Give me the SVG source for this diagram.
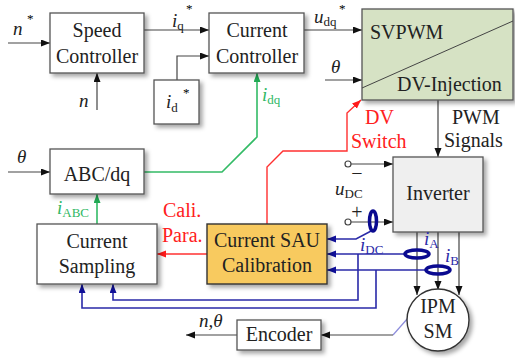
<svg xmlns="http://www.w3.org/2000/svg" width="515" height="358" viewBox="0 0 515 358">
<style>
.box{fill:#ffffff;stroke:#555;stroke-width:1.3}
.t{font-family:"Liberation Serif","Times New Roman","DejaVu Serif",serif;font-size:20px;fill:#222}
.m{font-family:"Liberation Serif","Times New Roman","DejaVu Serif",serif;font-style:italic;font-size:19px;fill:#222}
.s{font-family:"Liberation Serif","Times New Roman","DejaVu Serif",serif;font-size:13px;font-style:normal}
.cr{fill:#ff2020}
.cg{fill:#2fb865}
.cb{fill:#2a2aa8}
.k{stroke:#444;stroke-width:1.2;fill:none}
.g{stroke:#33bb66;stroke-width:1.6;fill:none}
.r{stroke:#ff3030;stroke-width:1.4;fill:none}
.b{stroke:#2a2aa8;stroke-width:1.6;fill:none}
.ring{stroke:#0a0a90;stroke-width:3.5;fill:none}
</style>
<defs>
<filter id="sh" x="-10%" y="-10%" width="130%" height="140%">
<feDropShadow dx="3" dy="3" stdDeviation="2" flood-color="#000" flood-opacity="0.35"/>
</filter>
<marker id="ak" markerUnits="userSpaceOnUse" markerWidth="10" markerHeight="8" refX="9" refY="3.5" orient="auto"><path d="M0,0 L9,3.5 L0,7 z" fill="#111"/></marker>
<marker id="ag" markerUnits="userSpaceOnUse" markerWidth="10" markerHeight="8" refX="9" refY="3.5" orient="auto"><path d="M0,0 L9,3.5 L0,7 z" fill="#22aa55"/></marker>
<marker id="ar" markerUnits="userSpaceOnUse" markerWidth="10" markerHeight="8" refX="9" refY="3.5" orient="auto"><path d="M0,0 L9,3.5 L0,7 z" fill="#ff1a1a"/></marker>
<marker id="ab" markerUnits="userSpaceOnUse" markerWidth="10" markerHeight="8" refX="9" refY="3.5" orient="auto"><path d="M0,0 L9,3.5 L0,7 z" fill="#10109a"/></marker>
</defs>

<g id="connectors">
<path class="k" d="M8,43 H50" marker-end="url(#ak)"/>
<path class="k" d="M97,110 V73" marker-end="url(#ak)"/>
<path class="k" d="M144,30 H209" marker-end="url(#ak)"/>
<path class="k" d="M177,80 V56 H209" marker-end="url(#ak)"/>
<path class="k" d="M304,30 H362" marker-end="url(#ak)"/>
<path class="k" d="M325,80 H362" marker-end="url(#ak)"/>
<path class="k" d="M8,172 H50" marker-end="url(#ak)"/>
<path class="g" d="M144,172 H222 L257,137 V73" marker-end="url(#ag)"/>
<path class="g" d="M97,224 V194" marker-end="url(#ag)"/>
<path class="r" d="M207,254 H157" marker-end="url(#ar)"/>
<path class="r" d="M267,224 V167 L283,151 H347 V113 L361,100" marker-end="url(#ar)"/>
<path class="k" d="M438,100 V157" marker-end="url(#ak)"/>
<circle cx="348" cy="164" r="3" fill="#fff" stroke="#444" stroke-width="1.2"/>
<circle cx="348" cy="222" r="3" fill="#fff" stroke="#444" stroke-width="1.2"/>
<path class="k" d="M351,164 H393" marker-end="url(#ak)"/>
<path class="k" d="M351,222 H393" marker-end="url(#ak)"/>
<path class="k" d="M417,232 V295" marker-end="url(#ak)"/>
<path class="k" d="M438,232 V290" marker-end="url(#ak)"/>
<path class="k" d="M459,232 V295" marker-end="url(#ak)"/>
<path class="b" d="M373,230 L356,239 H327" marker-end="url(#ab)"/>
<path class="b" d="M405,254 H327" marker-end="url(#ab)"/>
<path class="b" d="M426,270 H327" marker-end="url(#ab)"/>
<path class="b" d="M358,254 V300 H113 V284" marker-end="url(#ab)"/>
<path class="b" d="M376,270 V308 H82 V284" marker-end="url(#ab)"/>
<ellipse class="ring" cx="373" cy="221" rx="3.5" ry="10"/>
<ellipse class="ring" cx="417" cy="254" rx="12" ry="4"/>
<ellipse class="ring" cx="438" cy="270" rx="12" ry="4"/>
<path d="M408,318 L393,335" stroke="#8c8cdc" stroke-width="1.2" fill="none"/>
<path class="k" d="M393,335 H321" marker-end="url(#ak)"/>
<path class="k" d="M237,335 H186" marker-end="url(#ak)"/>
</g>

<g id="speed-controller">
<rect class="box" x="50" y="13" width="94" height="60" filter="url(#sh)"/>
<text class="t" x="97" y="37" text-anchor="middle">Speed</text>
<text class="t" x="97" y="63" text-anchor="middle">Controller</text>
</g>
<g id="current-controller">
<rect class="box" x="209" y="13" width="95" height="60" filter="url(#sh)"/>
<text class="t" x="257" y="37" text-anchor="middle">Current</text>
<text class="t" x="257" y="63" text-anchor="middle">Controller</text>
</g>
<g id="id-ref">
<rect class="box" x="154" y="80" width="45" height="44" filter="url(#sh)"/>
<text class="m" x="166" y="108">i<tspan class="s" dy="4">d</tspan></text>
<text class="s" x="183" y="97">*</text>
</g>
<g id="svpwm">
<rect x="362" y="9" width="151" height="91" fill="#d6e2c4" stroke="#555" stroke-width="1.3" filter="url(#sh)"/>
<path d="M362,88 L513,21" stroke="#444" stroke-width="1" fill="none"/>
<text class="t" x="370" y="39">SVPWM</text>
<text class="t" x="397" y="91">DV-Injection</text>
</g>
<g id="abc-dq">
<rect class="box" x="50" y="149" width="94" height="45" filter="url(#sh)"/>
<text class="t" x="97" y="181" text-anchor="middle">ABC/dq</text>
</g>
<g id="current-sampling">
<rect class="box" x="37" y="224" width="120" height="60" filter="url(#sh)"/>
<text class="t" x="97" y="248" text-anchor="middle">Current</text>
<text class="t" x="97" y="273" text-anchor="middle">Sampling</text>
</g>
<g id="sau-calibration">
<rect x="207" y="224" width="120" height="60" fill="#f8ca5e" stroke="#333" stroke-width="1.4" filter="url(#sh)"/>
<text class="t" x="267" y="247" text-anchor="middle">Current SAU</text>
<text class="t" x="267" y="272" text-anchor="middle">Calibration</text>
</g>
<g id="inverter">
<rect x="393" y="157" width="90" height="75" fill="#efefef" stroke="#555" stroke-width="1.3" filter="url(#sh)"/>
<text class="t" x="438" y="200" text-anchor="middle">Inverter</text>
</g>
<g id="ipm-sm">
<circle cx="438" cy="320" r="31" fill="#fff" stroke="#333" stroke-width="1.4" filter="url(#sh)"/>
<text class="t" x="438" y="313" text-anchor="middle">IPM</text>
<text class="t" x="438" y="338" text-anchor="middle">SM</text>
</g>
<g id="encoder">
<rect class="box" x="237" y="320" width="84" height="30" filter="url(#sh)"/>
<text class="t" x="279" y="341" text-anchor="middle">Encoder</text>
</g>

<g id="labels">
<text class="m" x="13" y="35">n</text>
<text class="s" x="27" y="23">*</text>
<text class="m" x="79" y="107">n</text>
<text class="m" x="172" y="27">i<tspan class="s" dy="3">q</tspan></text>
<text class="s" x="186" y="13">*</text>
<text class="m" x="314" y="23">u<tspan class="s" dy="3">dq</tspan></text>
<text class="s" x="339" y="13">*</text>
<text class="m" x="331" y="73">θ</text>
<text class="m" x="17" y="163">θ</text>
<text class="m cg" x="262" y="101">i<tspan class="s cg" dy="3">dq</tspan></text>
<text class="m cg" x="57" y="214">i<tspan class="s cg" dy="3">ABC</tspan></text>
<text class="t cr" x="163" y="217">Cali.</text>
<text class="t cr" x="162" y="242">Para.</text>
<text class="t cr" x="365" y="124">DV</text>
<text class="t cr" x="351" y="148">Switch</text>
<text class="t" x="452" y="124">PWM</text>
<text class="t" x="444" y="147">Signals</text>
<text class="t" x="357" y="180" text-anchor="middle">−</text>
<text class="m" x="335" y="195">u<tspan class="s" dy="3">DC</tspan></text>
<text class="t" x="357" y="219" text-anchor="middle" font-size="18">+</text>
<text class="m cb" x="360" y="251">i<tspan class="s cb" dy="3">DC</tspan></text>
<text class="m cb" x="424" y="245">i<tspan class="s cb" dy="3">A</tspan></text>
<text class="m cb" x="445" y="262">i<tspan class="s cb" dy="3">B</tspan></text>
<text class="m" x="199" y="327">n,θ</text>
</g>
</svg>
